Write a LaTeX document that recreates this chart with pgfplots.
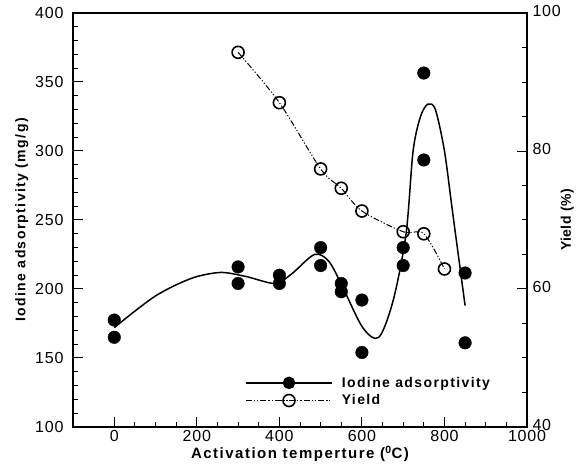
\documentclass[border=0pt]{standalone}
\usepackage{fontspec}
\setmainfont{Liberation Sans}
\newfontfamily\labfont[LetterSpace=10]{Liberation Sans}
\newfontfamily\yfont[LetterSpace=3]{Liberation Sans}
\newfontfamily\tickfont[LetterSpace=5]{Liberation Sans}
\usepackage{pgfplots}
\pgfplotsset{compat=1.18}
\begin{document}
\begin{tikzpicture}
\pgfplotsset{
  common/.style={
    scale only axis, width=454pt, height=414pt,
    xmin=-100, xmax=1000,
    tick align=inside,
    major tick length=10pt, minor tick length=5pt,
    every tick/.style={line width=1pt, black},
    /pgf/number format/assume math mode=true,
    /pgf/number format/1000 sep={},
    tick label style={font=\tickfont\fontsize{16}{19}\selectfont},
  }
}
\begin{axis}[common,
  ymin=100, ymax=400,
  axis line style={line width=1.6pt},
  xtick={0,200,...,1000}, minor x tick num=3,
  ytick={100,150,...,400}, minor y tick num=4,
  xtick pos=left, ytick pos=left,
  yticklabel style={xshift=-6pt},
  xlabel={\labfont\bfseries\fontsize{15}{18}\selectfont Activation temperture ($^{\mathbf{0}}$C)},
  ylabel={\labfont\bfseries\fontsize{14}{17}\selectfont Iodine adsorptivity (mg/g)},
  xlabel style={yshift=3pt},
  ylabel style={yshift=0pt},
]
\addplot[only marks, mark=*, mark size=6.3pt, black] coordinates {
 (0,177.5) (0,165) (300,216) (300,204) (400,210) (400,204)
 (500,230) (500,217) (550,204) (550,198) (600,192) (600,154)
 (700,230) (700,217) (750,356.5) (750,293.5) (850,211.6) (850,161)
};
\addplot[smooth, line width=1.5pt, black, no marks] coordinates {
 (0,172) (50,184) (100,195) (150,203) (200,209) (260,212) (320,209)
 (390,204) (430,211) (485,225) (520,220) (554,201) (602,172) (641,165)
 (676,192) (707,240) (724,300) (742,325) (760,334) (778,330) (800,300)
 (820,255) (850,188)
};
\end{axis}
\begin{axis}[common,
  ymin=40, ymax=100,
  axis x line=none, axis y line*=right,
  axis line style={line width=1.6pt},
  ytick={40,60,80,100}, minor y tick num=3,
  ytick pos=right,
  yticklabel style={xshift=2pt, yshift=2pt},
  ylabel={\yfont\bfseries\fontsize{14}{17}\selectfont Yield (\%)},
  ylabel style={yshift=7pt},
  legend style={draw=none, fill=none, at={(0.379,0.126)}, anchor=north west,
    row sep=2pt, inner sep=0pt, nodes={inner sep=2pt},
    /tikz/every odd column/.append style={column sep=7pt}},
  legend cell align=left,
  legend image code/.code={\draw[mark repeat=2,mark phase=2,#1] plot coordinates {(0pt,0pt)(43pt,0pt)(86pt,0pt)};},
]
\addlegendimage{line width=1.5pt, black, mark=*, mark size=5.5pt}
\addlegendentry{\labfont\bfseries\fontsize{14}{17}\selectfont Iodine adsorptivity}
\addplot[smooth, line width=1pt, black, dash pattern=on 6pt off 2pt on 1.2pt off 2pt on 1.2pt off 2pt,
  mark=o, mark size=6pt, mark options={solid, fill=white, line width=1.6pt}] coordinates {
 (300,94.3) (400,87.0) (500,77.4) (550,74.6) (600,71.3) (700,68.3) (750,68.0) (800,62.9)
};
\addlegendentry{\labfont\bfseries\fontsize{14}{17}\selectfont Yield}
\end{axis}
\pgfresetboundingbox
\path[use as bounding box] (-73pt,-41pt) rectangle (513pt,427pt);
\end{tikzpicture}
\end{document}
